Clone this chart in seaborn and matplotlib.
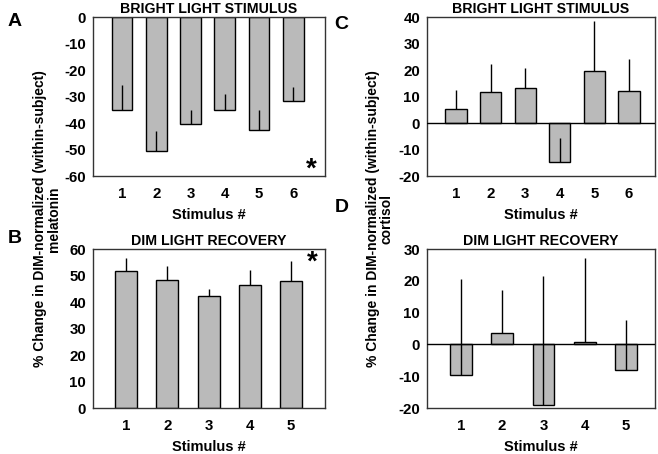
import matplotlib
matplotlib.use("Agg")
import matplotlib.pyplot as plt
import seaborn as sns
import pandas as pd

# panel A: melatonin, bright light stimulus
mel_bright = [-35.2, -50.5, -40.5, -35.2, -42.5, -31.7]
mel_bright_err = [9.6, 7.3, 5.4, 6.3, 7.6, 5.4]
# panel B: melatonin, dim light recovery
mel_dim = [51.8, 48.3, 42.1, 46.4, 47.8]
mel_dim_err = [4.8, 5.3, 2.9, 5.5, 7.8]
# panel C: cortisol, bright light stimulus
cort_bright = [5.3, 11.7, 13.2, -14.6, 19.8, 11.9]
cort_bright_err = [7.3, 10.4, 7.6, 9.1, 18.8, 12.1]
# panel D: cortisol, dim light recovery
cort_dim = [-9.7, 3.6, -19.0, 0.9, -8.0]
cort_dim_err = [30.3, 13.5, 40.4, 26.2, 15.8]

bright_stim = ["1", "2", "3", "4", "5", "6"]
dim_stim = ["1", "2", "3", "4", "5"]

sns.set_theme(style="white")
plt.rcParams["font.family"] = ["Liberation Sans", "DejaVu Sans"]
plt.rcParams["font.weight"] = "bold"
plt.rcParams["axes.unicode_minus"] = False
plt.rcParams["text.color"] = "black"
plt.rcParams["axes.labelcolor"] = "black"
plt.rcParams["xtick.color"] = "black"
plt.rcParams["ytick.color"] = "black"

fig = plt.figure(figsize=(6.58, 4.54), dpi=100)

BAR = "#bababa"
SPINE = "#333333"


def panel(rect, stim, vals, errs, ylim, yticks, xlim, width, title, zero_line):
    ax = fig.add_axes(rect)
    df = pd.DataFrame({"Stimulus": stim, "Value": vals})
    sns.barplot(data=df, x="Stimulus", y="Value", color=BAR, width=width,
                edgecolor="black", linewidth=1.0, saturation=1, errorbar=None, ax=ax)
    # one-sided error lines, drawn upward from the bar end, no caps
    xs = range(len(vals))
    ax.vlines(list(xs), vals, [v + e for v, e in zip(vals, errs)],
              color="black", linewidth=1.0, zorder=5)
    if zero_line:
        ax.axhline(0, color="black", linewidth=1.0, zorder=4)
    ax.set_ylim(*ylim)
    ax.set_yticks(yticks)
    ax.set_xlim(*xlim)
    ax.set_title(title, fontsize=10.2, fontweight="bold", pad=3, color="black")
    ax.set_xlabel("Stimulus #", fontsize=10.5, fontweight="bold", labelpad=5)
    ax.set_ylabel("")
    for s in ax.spines.values():
        s.set_color(SPINE)
        s.set_linewidth(1.0)
    ax.tick_params(axis="both", direction="out", length=3, width=0.8,
                   color=SPINE, labelsize=10.8, pad=2)
    ax.tick_params(axis="x", pad=5)
    for lab in ax.get_xticklabels() + ax.get_yticklabels():
        lab.set_fontweight("bold")
    return ax


axA = panel([0.1413, 0.6123, 0.3526, 0.3502], bright_stim, mel_bright, mel_bright_err,
            (-60, 0), range(-60, 1, 10), (-0.85, 5.93), 0.61,
            "BRIGHT LIGHT STIMULUS", False)
axB = panel([0.1413, 0.1013, 0.3526, 0.3502], dim_stim, mel_dim, mel_dim_err,
            (0, 60), range(0, 61, 10), (-0.8, 4.82), 0.53,
            "DIM LIGHT RECOVERY", False)
axC = panel([0.6489, 0.6123, 0.3465, 0.3502], bright_stim, cort_bright, cort_bright_err,
            (-20, 40), range(-20, 41, 10), (-0.84, 5.75), 0.61,
            "BRIGHT LIGHT STIMULUS", True)
axD = panel([0.6489, 0.1013, 0.3465, 0.3502], dim_stim, cort_dim, cort_dim_err,
            (-20, 30), range(-20, 31, 10), (-0.82, 4.70), 0.53,
            "DIM LIGHT RECOVERY", True)

# significance stars
axA.text(5.54, -57.5, "*", fontsize=20, fontweight="bold", ha="center", va="center")
axB.text(4.51, 55.0, "*", fontsize=20, fontweight="bold", ha="center", va="center")

# panel letters
for x, y, s in [(0.012, 0.952, "A"), (0.012, 0.474, "B"), (0.508, 0.945, "C"), (0.508, 0.542, "D")]:
    fig.text(x, y, s, fontsize=14, fontweight="bold", ha="left", va="center")

# shared y labels
fig.text(0.072, 0.518, "% Change in DIM-normalized (within-subject)\nmelatonin",
         rotation=90, ha="center", va="center", multialignment="center",
         fontsize=10, fontweight="bold", linespacing=1.0)
fig.text(0.577, 0.518, "% Change in DIM-normalized (within-subject)\ncortisol",
         rotation=90, ha="center", va="center", multialignment="center",
         fontsize=10, fontweight="bold", linespacing=1.0)

fig.savefig("out.png", dpi=100, facecolor="white")
